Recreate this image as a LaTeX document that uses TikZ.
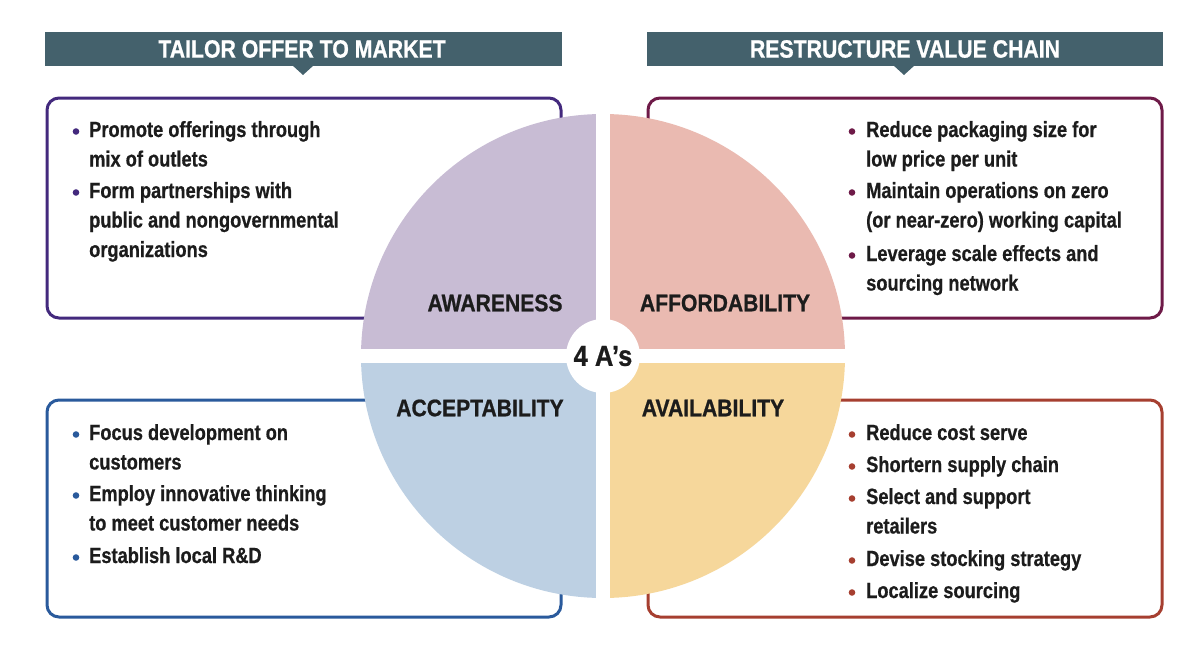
\documentclass[tikz,border=0pt]{standalone}
\usepackage{fontspec}
\newfontfamily\cf[FakeStretch=0.83, BoldFeatures={FakeBold=0.6}]{Liberation Sans}
\newfontfamily\cq[FakeStretch=0.88, BoldFeatures={FakeBold=0.8}]{Liberation Sans}
\newfontfamily\cb[FakeStretch=0.85, BoldFeatures={FakeBold=0.8}]{Liberation Sans}
\definecolor{banner}{HTML}{44616C}
\definecolor{qa}{HTML}{C8BCD4}
\definecolor{qf}{HTML}{EABAB1}
\definecolor{qc}{HTML}{BDD0E3}
\definecolor{qv}{HTML}{F6D79B}
\definecolor{ctl}{HTML}{43297D}
\definecolor{ctr}{HTML}{6E1A48}
\definecolor{cbl}{HTML}{2A5A9C}
\definecolor{cbr}{HTML}{A63F30}
\definecolor{ink}{HTML}{1C1C1C}
\tikzset{
  bannertext/.style={text=white, font=\cb\bfseries\fontsize{25}{27}\selectfont, inner sep=0pt},
  panel/.style={rounded corners=12pt, line width=3pt, fill=white},
  line/.style={anchor=base west, inner sep=0pt, text=ink, font=\cf\bfseries\fontsize{22}{25}\selectfont},
  quadlabel/.style={inner sep=0pt, text=ink, font=\cq\bfseries\fontsize{24}{26}\selectfont},
}
\begin{document}
\begin{tikzpicture}[x=1pt,y=-1pt]
\useasboundingbox (0,0) rectangle (1197,645);
% banners
\fill[banner] (45,32) rectangle (562,66);
\fill[banner] (292,65) -- (303,75) -- (314,65) -- cycle;
\node[bannertext] (bl) at (302,49) {TAILOR OFFER TO MARKET};
\fill[banner] (647,32) rectangle (1163,66);
\fill[banner] (893,65) -- (904,75) -- (915,65) -- cycle;
\node[bannertext] (br) at (905,49) {RESTRUCTURE VALUE CHAIN};
% panels
\draw[panel, draw=ctl] (47,98) rectangle (561,318);
\draw[panel, draw=ctr] (648,98) rectangle (1162,318);
\draw[panel, draw=cbl] (47,400) rectangle (561,617);
\draw[panel, draw=cbr] (648,400) rectangle (1162,617);
% quadrants
\begin{scope}
\clip (603,356) circle (242);
\fill[qa] (355,108) rectangle (596,349);
\fill[qf] (610,108) rectangle (851,349);
\fill[qc] (355,363) rectangle (596,604);
\fill[qv] (610,363) rectangle (851,604);
\end{scope}
\node[circle, fill=white, minimum size=74pt, inner sep=0pt, text=ink, font=\cq\bfseries\fontsize{29}{30}\selectfont] (c) at (603,356) {4 A’s};
\node[quadlabel] (aw) at (495,303) {AWARENESS};
\node[quadlabel] (af) at (725,303) {AFFORDABILITY};
\node[quadlabel] (ac) at (480,408) {ACCEPTABILITY};
\node[quadlabel] (av) at (713,408) {AVAILABILITY};
% top-left text
\node[line] (tl1) at (89,137) {Promote offerings through};
\node[line] (tl2) at (89,166.5) {mix of outlets};
\node[line] (tl3) at (89,198) {Form partnerships with};
\node[line] (tl4) at (89,227.5) {public and nongovernmental};
\node[line] (tl5) at (89,257) {organizations};
\fill[ctl] (76,131.5) circle (3.3) (76,192.5) circle (3.3);
% top-right text
\node[line] (tr1) at (866,137) {Reduce packaging size for};
\node[line] (tr2) at (866,166.5) {low price per unit};
\node[line] (tr3) at (866,198) {Maintain operations on zero};
\node[line] (tr4) at (866,227.5) {(or near-zero) working capital};
\node[line] (tr5) at (866,261) {Leverage scale effects and};
\node[line] (tr6) at (866,290.5) {sourcing network};
\fill[ctr] (852,131.5) circle (3.3) (852,192.5) circle (3.3) (852,255.5) circle (3.3);
% bottom-left text
\node[line] (bl1) at (89,440) {Focus development on};
\node[line] (bl2) at (89,469.5) {customers};
\node[line] (bl3) at (89,501) {Employ innovative thinking};
\node[line] (bl4) at (89,530.5) {to meet customer needs};
\node[line] (bl5) at (89,563) {Establish local R\&D};
\fill[cbl] (76,434.5) circle (3.3) (76,495.5) circle (3.3) (76,557.5) circle (3.3);
% bottom-right text
\node[line] (br1) at (866,440) {Reduce cost serve};
\node[line] (br2) at (866,472) {Shortern supply chain};
\node[line] (br3) at (866,504) {Select and support};
\node[line] (br4) at (866,533.5) {retailers};
\node[line] (br5) at (866,566) {Devise stocking strategy};
\node[line] (br6) at (866,598) {Localize sourcing};
\fill[cbr] (852,434.5) circle (3.3) (852,466.5) circle (3.3) (852,498.5) circle (3.3) (852,560.5) circle (3.3) (852,592.5) circle (3.3);
\end{tikzpicture}
\end{document}
